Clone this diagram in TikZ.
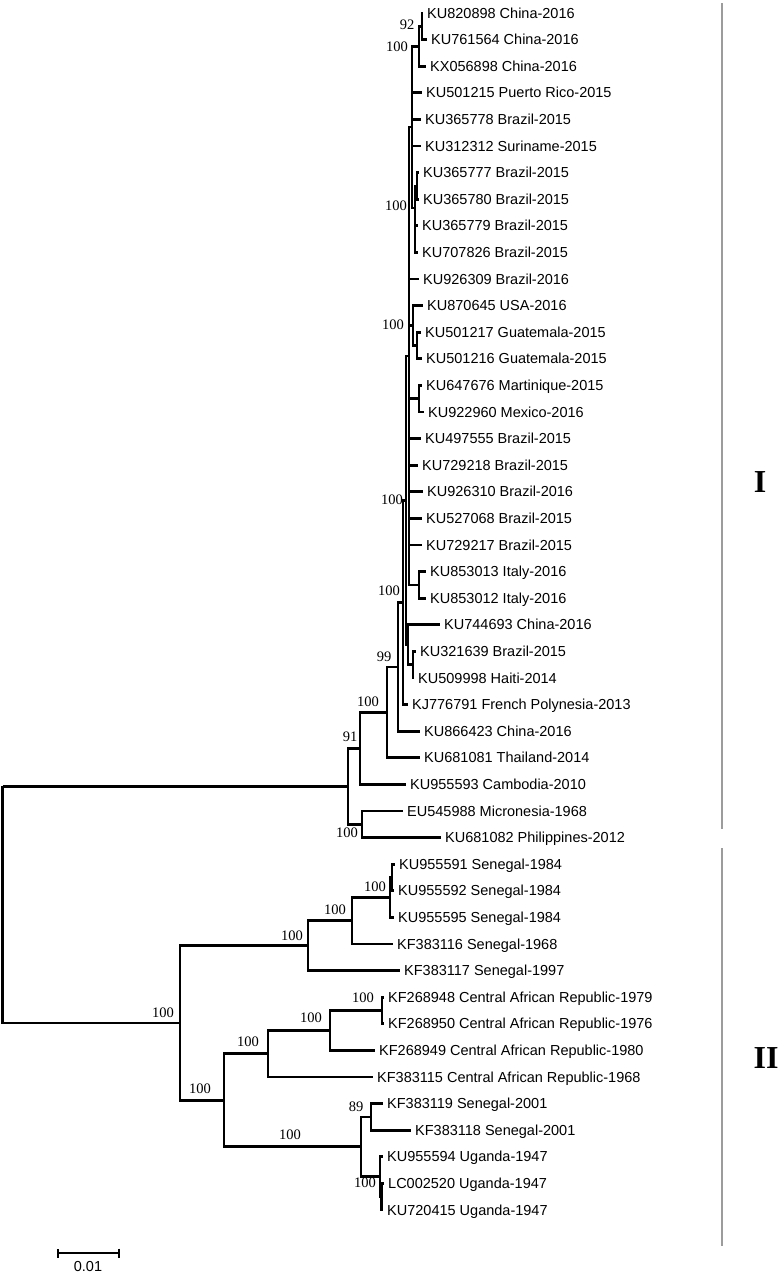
\documentclass[tikz,border=0pt]{standalone}
\usepackage{fontspec}
\setmainfont{Liberation Serif}
\newfontfamily\arialfont{Liberation Sans}
\usetikzlibrary{arrows.meta}
\definecolor{trink}{HTML}{000000}
\definecolor{trgrey}{HTML}{9C9C9C}
\tikzset{
  branch/.style={draw=trink,line width=2.7pt},
  taxon/.style={anchor=base west,inner sep=0pt,text=trink,font=\arialfont\fontsize{14.5}{16}\selectfont},
  boot/.style={inner sep=0pt,text=trink,font=\fontsize{14.5}{16}\selectfont},
  cladebar/.style={draw=trgrey,line width=1.8pt},
  cladename/.style={inner sep=0pt,text=trink,font=\bfseries\fontsize{32}{36}\selectfont},
  scalebar/.style={draw=trink,line width=2.2pt,{Bar[width=9pt]}-{Bar[width=9pt]}},
}

\begin{document}
\begin{tikzpicture}[x=1pt,y=-1pt]
  \useasboundingbox (0,0) rectangle (782,1275);

  % ---- tips and taxon names ----
  \foreach \i/\tx/\name in {0/423/KU820898 China-2016, 1/427/KU761564 China-2016,
      2/426/KX056898 China-2016, 3/422/KU501215 Puerto Rico-2015, 4/421/KU365778 Brazil-2015,
      5/421/KU312312 Suriname-2015, 6/419/KU365777 Brazil-2015, 7/419/KU365780 Brazil-2015,
      8/418/KU365779 Brazil-2015, 9/418/KU707826 Brazil-2015, 10/419/KU926309 Brazil-2016,
      11/423/KU870645 USA-2016, 12/421/KU501217 Guatemala-2015, 13/422/KU501216 Guatemala-2015,
      14/422/KU647676 Martinique-2015, 15/424/KU922960 Mexico-2016, 16/421/KU497555 Brazil-2015,
      17/418/KU729218 Brazil-2015, 18/423/KU926310 Brazil-2016, 19/422/KU527068 Brazil-2015,
      20/422/KU729217 Brazil-2015, 21/426/KU853013 Italy-2016, 22/426/KU853012 Italy-2016,
      23/440/KU744693 China-2016, 24/416/KU321639 Brazil-2015, 25/414/KU509998 Haiti-2014,
      26/408/KJ776791 French Polynesia-2013, 27/420/KU866423 China-2016, 28/420/KU681081 Thailand-2014,
      29/406/KU955593 Cambodia-2010, 30/403/EU545988 Micronesia-1968, 31/441/KU681082 Philippines-2012,
      32/395/KU955591 Senegal-1984, 33/394/KU955592 Senegal-1984, 34/394/KU955595 Senegal-1984,
      35/393/KF383116 Senegal-1968, 36/400/KF383117 Senegal-1997,
      37/384/KF268948 Central African Republic-1979, 38/384/KF268950 Central African Republic-1976,
      39/375/KF268949 Central African Republic-1980, 40/373/KF383115 Central African Republic-1968,
      41/383/KF383119 Senegal-2001, 42/411/KF383118 Senegal-2001, 43/383/KU955594 Uganda-1947,
      44/384/LC002520 Uganda-1947, 45/383/KU720415 Uganda-1947}{
    \pgfmathsetmacro{\ty}{13+26.6*\i}
    \coordinate (t\i) at (\tx,\ty);
    \node[taxon] (lab\i) at ({\tx+4},{\ty+5.1}) {\name};
  }

  % ---- internal nodes, lineage I ----
  \coordinate (root) at (2.5,786.3);
  \coordinate (cI)    at (348,786.3);
  \coordinate (c91)   at (360,748.35);
  \coordinate (cMP)   at (362,824.3);
  \coordinate (c100a) at (387,712.3);
  \coordinate (c99)   at (398,666.85);
  \coordinate (c100b) at (403,602.5);
  \coordinate (c100c) at (406,500.35);
  \coordinate (cBot)  at (408,644.75);
  \coordinate (cHB)   at (413,664.7);
  \coordinate (cTop)  at (409,355.95);
  \coordinate (cIt)   at (419,584.9);
  \coordinate (cMM)   at (419,398.7);
  \coordinate (c100u) at (413,325.55);
  \coordinate (cUSA)  at (417,345.5);
  \coordinate (cA1)   at (412,127);
  \coordinate (c100d) at (415,208);
  \coordinate (c67)   at (417,185.9);
  \coordinate (c100t) at (419,46.25);
  \coordinate (c92)   at (422,26.3);

  % ---- internal nodes, lineage II ----
  \coordinate (n2a) at (180,1022.95);
  \coordinate (n2b) at (308,945.65);
  \coordinate (n2c) at (352,920.7);
  \coordinate (n2d) at (390,897.45);
  \coordinate (s1)  at (392,877.5);
  \coordinate (n2k) at (224,1100.25);
  \coordinate (n2g) at (268,1053.7);
  \coordinate (n2f) at (330,1030.45);
  \coordinate (n2e) at (382,1010.5);
  \coordinate (n2j) at (361,1146.8);
  \coordinate (n2h) at (371,1116.9);
  \coordinate (n2i) at (380,1176.75);
  \coordinate (s2)  at (381.5,1196.7);

  % ---- branches ----
  \foreach \p/\c in {root/cI, root/n2a,
      cI/c91, cI/cMP, cMP/t30, cMP/t31,
      c91/c100a, c91/t29, c100a/c99, c100a/t28, c99/c100b, c99/t27, c100b/c100c, c100b/t26,
      c100c/cTop, c100c/cBot, cBot/t23, cBot/cHB, cHB/t24, cHB/t25,
      cTop/cA1, cTop/t10, cTop/c100u, cTop/cMM, cTop/t16, cTop/t17, cTop/t18, cTop/t19, cTop/t20, cTop/cIt,
      cIt/t21, cIt/t22, cMM/t14, cMM/t15, c100u/t11, c100u/cUSA, cUSA/t12, cUSA/t13,
      cA1/c100t, cA1/t3, cA1/t4, cA1/t5, cA1/c100d, c100d/c67, c100d/t8, c100d/t9, c67/t6, c67/t7,
      c100t/c92, c100t/t2, c92/t0, c92/t1,
      n2a/n2b, n2a/n2k, n2b/n2c, n2b/t36, n2c/n2d, n2c/t35, n2d/s1, n2d/t34, s1/t32, s1/t33,
      n2k/n2g, n2k/n2j, n2g/n2f, n2g/t40, n2f/n2e, n2f/t39, n2e/t37, n2e/t38,
      n2j/n2h, n2j/n2i, n2h/t41, n2h/t42, n2i/t43, n2i/s2, s2/t44, s2/t45}{
    \draw[branch] (\p) |- (\c);
  }

  % ---- bootstrap values ----
  \foreach \bx/\by/\bv [count=\k] in {407/25/92, 397/47/100, 396/206/100, 393/325/100,
      392/500/100, 389/591/100, 384/657/99, 368/702/100, 350/737/91, 347/833/100,
      375/887/100, 335/910/100, 292/936/100, 163/1013/100, 363/998/100, 311/1018/100,
      248/1042/100, 200/1089/100, 290/1135/100, 356/1107/89, 365/1183/100}{
    \node[boot] (bs\k) at (\bx,\by) {\bv};
  }

  % ---- lineage bars ----
  \coordinate (barItop) at (722,3);
  \coordinate (barIbot) at (722,829);
  \coordinate (barIItop) at (722,848);
  \coordinate (barIIbot) at (722,1246);
  \draw[cladebar] (barItop) -- (barIbot);
  \draw[cladebar] (barIItop) -- (barIIbot);
  \node[cladename] (linI) at (760,482) {I};
  \node[cladename] (linII) at (766,1058) {II};

  % ---- scale ----
  \coordinate (sbL) at (57,1253);
  \coordinate (sbR) at (120,1253);
  \draw[scalebar] (sbL) -- (sbR);
  \node[taxon,anchor=center] (sbtext) at (88,1266) {0.01};
\end{tikzpicture}
\end{document}
